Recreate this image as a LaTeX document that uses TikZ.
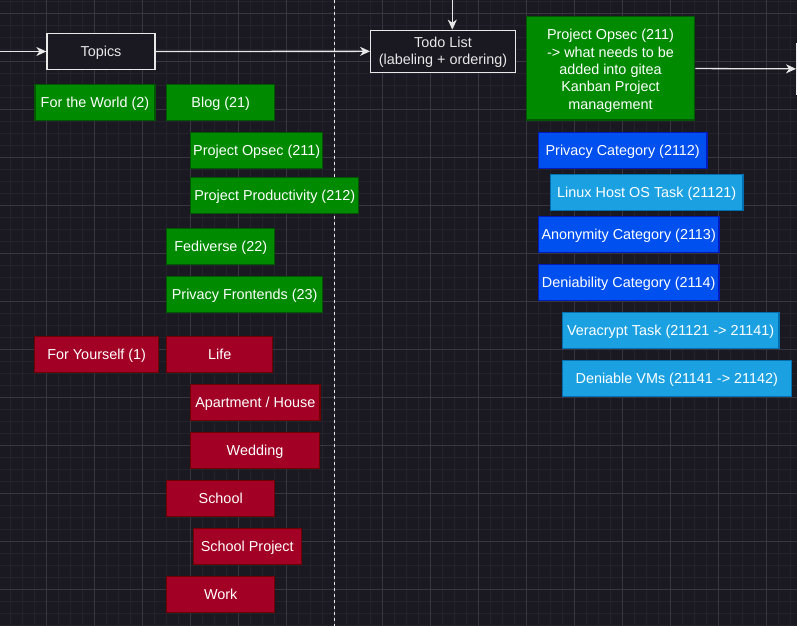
\documentclass[tikz,border=0pt]{standalone}
\usepackage{fontspec}
\setmainfont{Liberation Sans}
\usetikzlibrary{arrows.meta,positioning}
\definecolor{night}{RGB}{26,24,32}
\definecolor{gridmajor}{RGB}{56,55,64}
\definecolor{gridminor}{RGB}{36,34,43}
\definecolor{chalk}{RGB}{232,232,232}
\definecolor{forest}{RGB}{0,138,0}
\definecolor{forestline}{RGB}{0,87,0}
\definecolor{crimson}{RGB}{162,0,37}
\definecolor{crimsonline}{RGB}{111,0,0}
\definecolor{royal}{RGB}{0,80,239}
\definecolor{royalline}{RGB}{0,29,188}
\definecolor{sky}{RGB}{27,161,226}
\definecolor{skyline}{RGB}{0,110,175}
\tikzset{
  >={Stealth[length=10pt,width=9pt,inset=3pt]},
  card/.style={fill=#1,draw=#1line,line width=1.2pt,text=white,
    minimum height=36pt,inner sep=2pt,align=center,text height=13pt,text depth=3pt,
    font=\fontsize{14.4}{17.3}\selectfont},
  card/.default=forest,
  frame/.style={fill=night,draw=chalk,line width=1.3pt,text=chalk,
    minimum height=36pt,inner sep=2pt,align=center,text height=13pt,text depth=3pt,
    font=\fontsize{14.4}{17.3}\selectfont},
  lines/.style={text height=,text depth=},
  flow/.style={->,draw=chalk,line width=1.3pt},
}
\begin{document}
\begin{tikzpicture}[x=1pt,y=-1pt]
  \useasboundingbox (0,0) rectangle (797,626);
  \clip (0,0) rectangle (797,626);
  \fill[night] (0,0) rectangle (797,626);
  \foreach \x in {10.7,22.7,...,797} \draw[gridminor,line width=0.8pt] (\x,0) -- (\x,626);
  \foreach \y in {1.3,13.3,...,626} \draw[gridminor,line width=0.8pt] (0,\y) -- (797,\y);
  \foreach \x in {46.7,94.7,...,797} \draw[gridmajor,line width=0.9pt] (\x,0) -- (\x,626);
  \foreach \y in {13.3,61.3,...,626} \draw[gridmajor,line width=0.9pt] (0,\y) -- (797,\y);
  \draw[chalk,line width=1pt,dash pattern=on 3pt off 3pt] (334.7,0) -- (334.7,626);
  % header row
  \node[frame,minimum width=108pt] (topics) at (101,51.5) {Topics};
  \node[frame,lines,minimum width=144.6pt,minimum height=42pt] (todo) at (443,51.3) {\rule{0pt}{12pt}Todo List\\(labeling + ordering)};
  \node[card,lines,minimum width=168.4pt,minimum height=103.3pt] (plan) at (610.5,68.3) {\rule{0pt}{15.5pt}Project Opsec (211)\\-> what needs to be\\added into gitea\\Kanban Project\\management};
  \node[frame,minimum width=100pt,minimum height=50pt] (board) at (846.7,69) {};
  \coordinate (start) at (-2,51.5);
  \coordinate (above) at (452.3,-2);
  \draw[flow] (start) -- (topics);
  \draw[flow] (topics) -- (todo);
  \draw[flow] (above) -- (above |- todo.north);
  \draw[flow] (plan) -- (board);
  % for the world
  \node[card,minimum width=120pt] (world) at (95,102.2) {For the World (2)};
  \node[card,minimum width=108pt] (blog) at (220.7,102.2) {Blog (21)};
  \node[card,minimum width=132pt] (opsec) at (256.7,150.3) {Project Opsec (211)};
  \node[card,minimum width=168pt] (productivity) at (274.7,195.3) {Project Productivity (212)};
  \node[card,minimum width=108pt] (fediverse) at (220.7,246.3) {Fediverse (22)};
  \node[card,minimum width=156pt] (frontends) at (244.7,294.3) {Privacy Frontends (23)};
  % for yourself
  \node[card=crimson,minimum width=124pt] (yourself) at (96.7,354.2) {For Yourself (1)};
  \node[card=crimson,minimum width=106pt] (life) at (219.7,354.2) {Life};
  \node[card=crimson,minimum width=129.3pt] (apartment) at (255.3,402.3) {Apartment / House};
  \node[card=crimson,minimum width=128.6pt] (wedding) at (255,450.3) {Wedding};
  \node[card=crimson,minimum width=108pt] (school) at (220.7,498.3) {School};
  \node[card=crimson,minimum width=108pt] (schoolproject) at (247.3,546.3) {School Project};
  \node[card=crimson,minimum width=108pt] (work) at (220.7,594.3) {Work};
  % opsec categories and tasks
  \node[card=royal,minimum width=168.7pt] (privacy) at (622.7,150.3) {Privacy Category (2112)};
  \node[card=sky,minimum width=192.7pt] (linux) at (646.7,192.2) {Linux Host OS Task (21121)};
  \node[card=royal,minimum width=180.7pt] (anonymity) at (628.7,234.3) {Anonymity Category (2113)};
  \node[card=royal,minimum width=180.7pt] (deniability) at (628.7,282.3) {Deniability Category (2114)};
  \node[card=sky,minimum width=216.7pt] (veracrypt) at (670.7,330.5) {Veracrypt Task (21121 -> 21141)};
  \node[card=sky,minimum width=229pt] (vms) at (676.8,378.5) {Deniable VMs (21141 -> 21142)};
\end{tikzpicture}
\end{document}
